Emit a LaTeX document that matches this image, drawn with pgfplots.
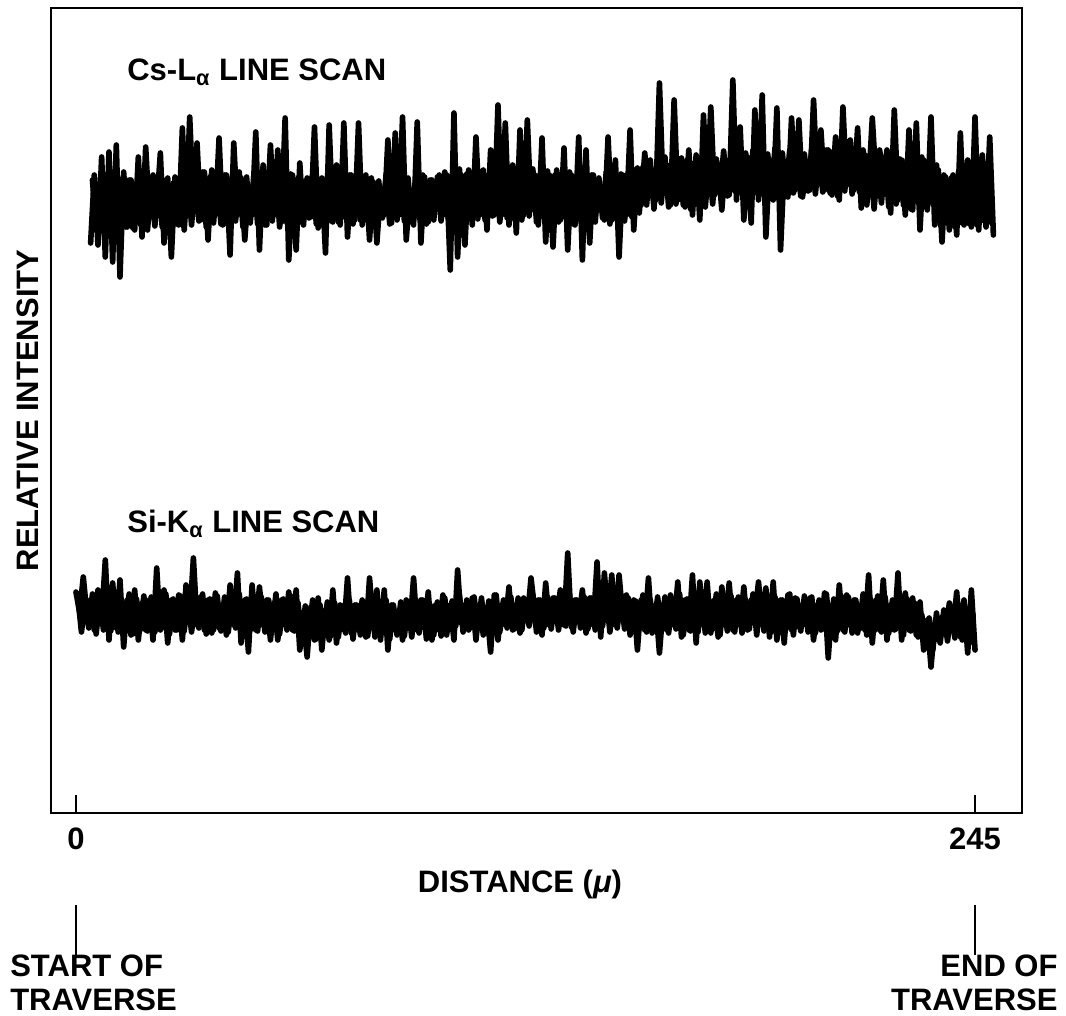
\documentclass[border=0pt]{standalone}
\usepackage{pgfplots}
\pgfplotsset{compat=1.18}
\usepackage{fontspec}
\setmainfont{Liberation Sans}
\newcommand{\lab}{\fontsize{15.5}{17}\selectfont\bfseries}
\pgfplotsset{trace/.style={black, no markers, line width=2.8pt, line join=round, line cap=round}}
\begin{document}
\begin{tikzpicture}
\begin{axis}[
  scale only axis, width=485.5pt, height=402.5pt,
  xmin=-6.8, xmax=257.8, ymin=0, ymax=805,
  axis line style={line width=1.4pt},
  xtick={0,245}, ytick=\empty,
  xtick pos=bottom, tick align=inside,
  major tick length=9pt,
  tick style={line width=1.2pt, black},
  xticklabel style={font=\lab, yshift=-4pt},
  /pgf/number format/assume math mode=true,
  clip=false,
  font=\lab,
  xlabel={DISTANCE (\textit{μ})},
  xlabel style={at={(axis description cs:0.483,-0.0894)}, anchor=center},
  ylabel={RELATIVE INTENSITY},
  ylabel style={at={(axis description cs:-0.0237,0.5)}, anchor=center},
]
% Cs-L alpha scan: peaks and dips
\addplot[trace] coordinates {
(4,570)(5,638)(6,568)(7,656)(8,556)(9,661)(10,551)(11,668)(12,536)(13,641)(14,586)(15,633)(16,583)(17,656)(18,576)(19,666)(20,598)(21,638)(22,606)(23,660)(24,570)(25,635)(26,556)(27,636)(28,588)(29,685)(30,598)(31,696)(32,608)(33,670)(34,593)(35,641)(36,573)(37,643)(38,598)(39,675)(40,588)(41,638)(42,558)(43,670)(44,598)(45,635)(46,573)(47,623)(48,598)(49,681)(50,563)(51,648)(52,588)(53,668)(54,598)(55,663)(56,591)(57,695)(58,553)(59,638)(60,563)(61,650)(62,588)(63,635)(64,596)(65,686)(66,585)(67,635)(68,560)(69,688)(70,591)(71,648)(72,588)(73,690)(74,576)(75,638)(76,593)(77,690)(78,588)(79,638)(80,573)(81,631)(82,570)(83,623)(84,598)(85,673)(86,590)(87,680)(88,598)(89,696)(90,573)(91,623)(92,588)(93,691)(94,570)(95,636)(96,591)(97,633)(98,613)(99,638)(100,598)(101,638)(102,543)(103,700)(104,556)(105,638)(106,568)(107,643)(108,588)(109,676)(110,598)(111,643)(112,583)(113,663)(114,598)(115,708)(116,598)(117,690)(118,588)(119,648)(120,580)(121,683)(122,598)(123,693)(124,603)(125,638)(126,588)(127,675)(128,571)(129,638)(130,566)(131,643)(132,593)(133,665)(134,563)(135,638)(136,588)(137,676)(138,553)(139,663)(140,570)(141,638)(142,603)(143,626)(144,593)(145,676)(146,593)(147,653)(148,556)(149,638)(150,598)(151,683)(152,583)(153,645)(154,608)(155,660)(156,616)(157,643)(158,613)(159,730)(160,623)(161,648)(162,608)(163,713)(164,613)(165,655)(166,606)(167,663)(168,598)(169,658)(170,593)(171,698)(172,623)(173,706)(174,618)(175,648)(176,603)(177,653)(178,618)(179,733)(180,613)(181,686)(182,593)(183,656)(184,590)(185,703)(186,613)(187,718)(188,576)(189,653)(190,613)(191,705)(192,563)(193,648)(194,616)(195,695)(196,623)(197,693)(198,616)(199,648)(200,623)(201,713)(202,628)(203,683)(204,623)(205,663)(206,618)(207,676)(208,613)(209,706)(210,628)(211,673)(212,623)(213,685)(214,605)(215,658)(216,628)(217,695)(218,633)(219,663)(220,633)(221,663)(222,600)(223,703)(224,613)(225,653)(226,598)(227,683)(228,603)(229,690)(230,583)(231,653)(232,603)(233,696)(234,588)(235,643)(236,571)(237,636)(238,583)(239,638)(240,578)(241,680)(242,588)(243,653)(244,586)(245,696)(246,583)(247,658)(248,586)(249,676)(250,578)
};
% Cs-L alpha scan: dense body of the trace
\addplot[trace] coordinates {
(4.5,633)(5.5,585)(6.5,630)(7.5,589)(8.5,636)(9.5,583)(10.5,631)(11.5,587)(12.5,634)(13.5,586)(14.5,633)(15.5,585)(16.5,630)(17.5,589)(18.5,636)(19.5,583)(20.5,631)(21.5,587)(22.5,634)(23.5,586)(24.5,633)(25.5,585)(26.5,630)(27.5,589)(28.5,636)(29.5,583)
(30.5,638)(31.5,588)(32.5,635)(33.5,592)(34.5,641)(35.5,586)(36.5,636)(37.5,590)(38.5,639)(39.5,589)(40.5,638)(41.5,588)(42.5,635)(43.5,592)(44.5,641)(45.5,586)(46.5,636)(47.5,590)(48.5,639)(49.5,589)(50.5,638)(51.5,588)(52.5,635)(53.5,592)(54.5,641)(55.5,586)(56.5,636)(57.5,590)(58.5,639)(59.5,589)
(60.5,635)(61.5,591)(62.5,632)(63.5,595)(64.5,638)(65.5,589)(66.5,633)(67.5,593)(68.5,636)(69.5,592)(70.5,635)(71.5,591)(72.5,632)(73.5,595)(74.5,638)(75.5,589)(76.5,633)(77.5,593)(78.5,636)(79.5,592)(80.5,635)(81.5,591)(82.5,632)(83.5,595)(84.5,638)(85.5,589)(86.5,633)(87.5,593)(88.5,636)(89.5,592)(90.5,635)(91.5,591)(92.5,632)(93.5,595)(94.5,638)(95.5,589)(96.5,633)(97.5,593)(98.5,636)(99.5,592)
(100.5,641)(101.5,593)(102.5,638)(103.5,597)(104.5,644)(105.5,591)(106.5,639)(107.5,595)(108.5,642)(109.5,594)(110.5,641)(111.5,593)(112.5,638)(113.5,597)(114.5,644)(115.5,591)(116.5,639)(117.5,595)(118.5,642)(119.5,594)(120.5,641)(121.5,593)(122.5,638)(123.5,597)(124.5,644)(125.5,591)(126.5,639)(127.5,595)(128.5,642)(129.5,594)
(130.5,638)(131.5,591)(132.5,635)(133.5,595)(134.5,641)(135.5,589)(136.5,636)(137.5,593)(138.5,639)(139.5,592)(140.5,638)(141.5,591)(142.5,635)(143.5,595)(144.5,641)(145.5,589)(146.5,636)(147.5,593)(148.5,639)(149.5,592)(150.5,640)(151.5,596)(152.5,643)(153.5,600)(154.5,646)
(155.5,608)(156.5,653)(157.5,604)(158.5,650)(159.5,610)(160.5,656)(161.5,606)(162.5,651)(163.5,609)(164.5,654)(165.5,608)(166.5,653)(167.5,604)(168.5,650)(169.5,610)(170.5,656)(171.5,606)(172.5,651)(173.5,609)(174.5,654)
(175.5,620)(176.5,662)(177.5,617)(178.5,659)(179.5,622)(180.5,665)(181.5,619)(182.5,660)(183.5,621)(184.5,663)(185.5,620)(186.5,662)(187.5,617)(188.5,659)(189.5,622)(190.5,665)(191.5,619)(192.5,660)(193.5,621)(194.5,663)(195.5,620)(196.5,662)(197.5,617)(198.5,659)(199.5,622)(200.5,665)(201.5,619)(202.5,660)(203.5,621)(204.5,663)(205.5,620)(206.5,662)(207.5,617)(208.5,659)(209.5,622)(210.5,665)(211.5,619)(212.5,660)(213.5,621)(214.5,663)
(215.5,608)(216.5,653)(217.5,604)(218.5,650)(219.5,610)(220.5,656)(221.5,606)(222.5,651)(223.5,609)(224.5,654)(225.5,608)(226.5,653)(227.5,604)(228.5,650)(229.5,610)(230.5,656)(231.5,606)(232.5,651)(233.5,609)(234.5,648)
(235.5,588)(236.5,638)(237.5,592)(238.5,635)(239.5,586)(240.5,641)(241.5,590)(242.5,636)(243.5,589)(244.5,639)(245.5,588)(246.5,638)(247.5,592)(248.5,635)(249.5,590)
};
% Si-K alpha scan: peaks and dips
\addplot[trace] coordinates {
(0,221)(1,201)(2,236)(3,198)(4,213)(5,183)(6,223)(7,193)(8,253)(9,173)(10,230)(11,185)(12,233)(13,166)(14,213)(15,178)(16,223)(17,173)(18,210)(19,183)(20,213)(21,173)(22,245)(23,183)(24,223)(25,170)(26,213)(27,183)(28,218)(29,173)(30,228)(31,193)(32,255)(33,188)(34,216)(35,183)(36,213)(37,180)(38,220)(39,185)(40,208)(41,178)(42,228)(43,188)(44,240)(45,170)(46,213)(47,161)(48,228)(49,183)(50,226)(51,188)(52,213)(53,173)(54,210)(55,173)(56,213)(57,188)(58,221)(59,183)(60,223)(61,163)(62,193)(63,156)(64,206)(65,173)(66,215)(67,163)(68,203)(69,173)(70,223)(71,170)(72,208)(73,183)(74,235)(75,180)(76,208)(77,183)(78,213)(79,176)(80,235)(81,188)(82,223)(83,173)(84,223)(85,163)(86,208)(87,183)(88,203)(89,173)(90,213)(91,185)(92,235)(93,183)(94,213)(95,188)(96,221)(97,173)(98,208)(99,183)(100,218)(101,178)(102,208)(103,173)(104,243)(105,190)(106,208)(107,183)(108,215)(109,173)(110,208)(111,178)(112,203)(113,161)(114,218)(115,173)(116,208)(117,188)(118,226)(119,183)(120,208)(121,180)(122,215)(123,193)(124,235)(125,203)(126,213)(127,178)(128,230)(129,188)(130,215)(131,196)(132,223)(133,188)(134,260)(135,186)(136,213)(137,193)(138,223)(139,180)(140,215)(141,188)(142,251)(143,176)(144,240)(145,193)(146,238)(147,188)(148,238)(149,196)(150,218)(151,178)(152,213)(153,163)(154,213)(155,183)(156,235)(157,180)(158,208)(159,160)(160,206)(161,183)(162,218)(163,188)(164,231)(165,176)(166,213)(167,183)(168,238)(169,170)(170,231)(171,188)(172,231)(173,180)(174,213)(175,176)(176,226)(177,188)(178,230)(179,183)(180,213)(181,188)(182,226)(183,183)(184,213)(185,198)(186,231)(187,190)(188,225)(189,176)(190,231)(191,173)(192,213)(193,170)(194,218)(195,183)(196,215)(197,186)(198,208)(199,188)(200,215)(201,173)(202,208)(203,183)(204,220)(205,155)(206,208)(207,173)(208,228)(209,183)(210,218)(211,188)(212,213)(213,180)(214,208)(215,183)(216,238)(217,170)(218,213)(219,183)(220,233)(221,173)(222,208)(223,183)(224,240)(225,173)(226,220)(227,183)(228,215)(229,178)(230,211)(231,163)(232,193)(233,146)(234,188)(235,173)(236,196)(237,178)(238,210)(239,183)(240,221)(241,176)(242,213)(243,160)(244,223)(245,163)
};
% Si-K alpha scan: dense body of the trace
\addplot[trace] coordinates {
(0.5,216)(1.5,181)(2.5,213)(3.5,185)(4.5,219)(5.5,179)(6.5,214)(7.5,183)(8.5,217)(9.5,182)(10.5,216)(11.5,181)(12.5,213)(13.5,185)(14.5,219)(15.5,179)(16.5,214)(17.5,183)(18.5,217)(19.5,182)(20.5,216)(21.5,181)(22.5,213)(23.5,185)(24.5,219)(25.5,179)(26.5,214)(27.5,183)(28.5,217)(29.5,182)(30.5,216)(31.5,181)(32.5,213)(33.5,185)(34.5,219)(35.5,179)(36.5,214)(37.5,183)(38.5,217)(39.5,182)(40.5,216)(41.5,181)(42.5,213)(43.5,185)(44.5,219)(45.5,179)(46.5,214)(47.5,183)(48.5,217)(49.5,182)(50.5,216)(51.5,181)(52.5,213)(53.5,185)(54.5,219)(55.5,179)(56.5,214)(57.5,183)(58.5,217)(59.5,182)
(60.5,210)(61.5,176)(62.5,207)(63.5,180)(64.5,213)(65.5,174)(66.5,208)(67.5,178)(68.5,211)(69.5,177)(70.5,210)(71.5,176)(72.5,207)(73.5,180)(74.5,213)(75.5,174)(76.5,208)(77.5,178)(78.5,211)(79.5,177)(80.5,210)(81.5,176)(82.5,207)(83.5,180)(84.5,213)(85.5,174)(86.5,208)(87.5,178)(88.5,211)(89.5,177)(90.5,210)(91.5,176)(92.5,207)(93.5,180)(94.5,213)(95.5,174)(96.5,208)(97.5,178)(98.5,211)(99.5,177)
(100.5,215)(101.5,183)(102.5,212)(103.5,187)(104.5,218)(105.5,181)(106.5,213)(107.5,185)(108.5,216)(109.5,184)(110.5,215)(111.5,183)(112.5,212)(113.5,187)(114.5,218)(115.5,181)(116.5,213)(117.5,185)(118.5,216)(119.5,184)(120.5,215)(121.5,183)(122.5,212)(123.5,187)(124.5,218)(125.5,181)(126.5,213)(127.5,185)(128.5,216)(129.5,184)(130.5,215)(131.5,183)(132.5,212)(133.5,187)(134.5,218)(135.5,181)(136.5,213)(137.5,185)(138.5,216)(139.5,184)(140.5,215)(141.5,183)(142.5,212)(143.5,187)(144.5,218)(145.5,181)(146.5,213)(147.5,185)(148.5,216)(149.5,184)(150.5,215)(151.5,183)(152.5,212)(153.5,187)(154.5,218)(155.5,181)(156.5,213)(157.5,185)(158.5,216)(159.5,184)
(160.5,216)(161.5,180)(162.5,213)(163.5,184)(164.5,219)(165.5,178)(166.5,214)(167.5,182)(168.5,217)(169.5,181)(170.5,216)(171.5,180)(172.5,213)(173.5,184)(174.5,219)(175.5,178)(176.5,214)(177.5,182)(178.5,217)(179.5,181)(180.5,216)(181.5,180)(182.5,213)(183.5,184)(184.5,219)(185.5,178)(186.5,214)(187.5,182)(188.5,217)(189.5,181)(190.5,216)(191.5,180)(192.5,213)(193.5,184)(194.5,219)(195.5,178)(196.5,214)(197.5,182)(198.5,217)(199.5,181)(200.5,216)(201.5,180)(202.5,213)(203.5,184)(204.5,219)(205.5,178)(206.5,214)(207.5,182)(208.5,217)(209.5,181)(210.5,216)(211.5,180)(212.5,213)(213.5,184)(214.5,219)(215.5,178)(216.5,214)(217.5,182)(218.5,217)(219.5,181)(220.5,216)(221.5,180)(222.5,213)(223.5,184)(224.5,219)(225.5,178)(226.5,214)(227.5,182)(228.5,210)(229.5,176)
(230.5,198)(231.5,165)(232.5,195)(233.5,163)(234.5,200)(235.5,170)(236.5,203)(237.5,172)(238.5,205)(239.5,175)(240.5,208)(241.5,173)(242.5,203)(243.5,170)(244.5,198)
};
\node[anchor=base west, font=\lab, inner sep=0pt] at (axis cs:13.9,732) {Cs-L\textsubscript{α} LINE SCAN};
\node[anchor=base west, font=\lab, inner sep=0pt] at (axis cs:13.9,280) {Si-K\textsubscript{α} LINE SCAN};
\draw[line width=1.2pt] (axis cs:0,-92) -- (axis cs:0,-142);
\draw[line width=1.2pt] (axis cs:245,-92) -- (axis cs:245,-142);
\node[anchor=west, align=left, font=\lab, inner sep=0pt] at (axis cs:-18.0,-170) {START OF\\TRAVERSE};
\node[anchor=east, align=right, font=\lab, inner sep=0pt] at (axis cs:267.6,-170) {END OF\\TRAVERSE};
\end{axis}
\pgfresetboundingbox
\path[use as bounding box] (-25.5pt,-101.5pt) rectangle (507.5pt,406.5pt);
\end{tikzpicture}
\end{document}
